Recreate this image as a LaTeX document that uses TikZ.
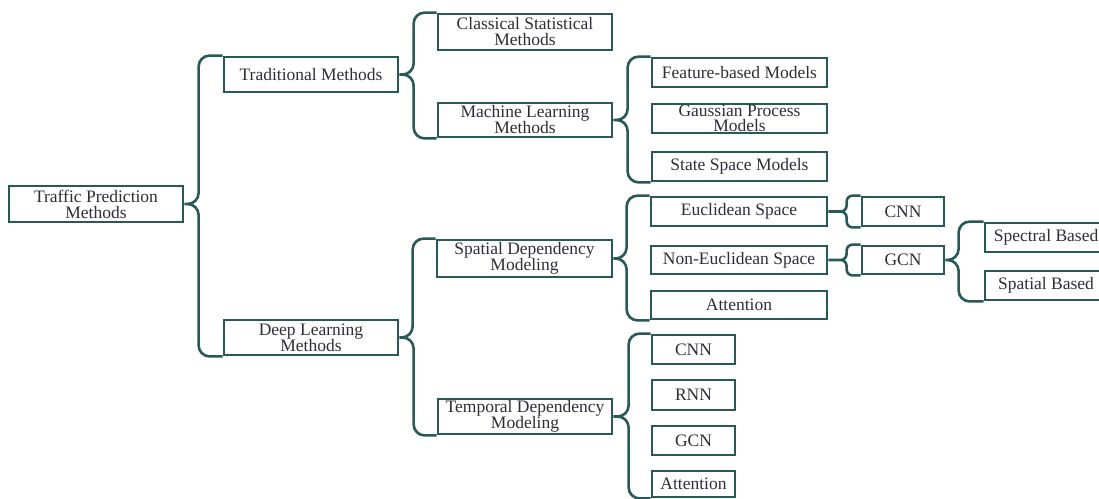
\documentclass[tikz,border=0pt]{standalone}
\usepackage{fontspec}
\setmainfont{Liberation Serif}
\usepackage{tikz}
\definecolor{bracegreen}{RGB}{40,88,88}
\definecolor{labelgray}{RGB}{45,45,55}

\begin{document}
\begin{tikzpicture}[x=1pt, y=-1pt,
  box/.style={draw=bracegreen, line width=2.8pt, text=labelgray, align=center, inner sep=0.5pt,
    minimum width=174pt, minimum height=29pt, font=\fontsize{17.5}{16}\selectfont},
  bracket/.style={draw=bracegreen, line width=2.6pt, rounded corners=11pt},
  shortbracket/.style={bracket, rounded corners=6pt}]
\useasboundingbox (0,0) rectangle (1099,498);

% Create nodes for the root and the two families of methods
\node[box, minimum height=36pt] (traffic) at (96,204) {Traffic Prediction\\Methods};
\node[box, minimum height=35pt] (trad) at (311,74.5) {Traditional Methods};
\node[box, minimum height=35pt] (deep) at (311,337.5) {Deep Learning\\Methods};

% Traditional branch
\node[box, minimum height=36pt] (classical) at (525,32) {Classical Statistical\\Methods};
\node[box, minimum height=34pt] (mlm) at (525,120) {Machine Learning\\Methods};
\node[box, minimum width=175pt] (feature) at (739.5,72.5) {Feature-based Models};
\node[box, minimum width=175pt, inner sep=0pt, font=\fontsize{17.5}{15.5}\selectfont] (gaussian) at (739.5,118.5) {Gaussian Process\\Models};
\node[box, minimum width=175pt] (statespace) at (739.5,166.5) {State Space Models};

% Deep learning branch
\node[box, minimum width=175pt, minimum height=37pt] (spatial) at (524.5,258.5) {Spatial Dependency\\Modeling};
\node[box, minimum height=35pt] (temporal) at (525,416.5) {Temporal Dependency\\Modeling};
\node[box, minimum width=176pt] (euclid) at (739,211.5) {Euclidean Space};
\node[box, minimum width=176pt, minimum height=28pt] (noneuclid) at (739,260) {Non-Euclidean Space};
\node[box, minimum width=176pt, minimum height=28pt] (sattn) at (739,305) {Attention};
\node[box, minimum width=82pt] (scnn) at (903,211.5) {CNN};
\node[box, minimum width=82pt, minimum height=28pt] (sgcn) at (903,260) {GCN};
\node[box, minimum width=122pt] (spectral) at (1046,237.5) {Spectral Based};
\node[box, minimum width=122pt] (spatialb) at (1046,285.5) {Spatial Based};
\node[box, minimum width=83pt] (tcnn) at (693.5,349.5) {CNN};
\node[box, minimum width=83pt, minimum height=30pt] (trnn) at (693.5,395) {RNN};
\node[box, minimum width=83pt] (tgcn) at (693.5,440.5) {GCN};
\node[box, minimum width=83pt, minimum height=26pt] (tattn) at (693.5,484) {Attention};

% Braces from each parent to its children
\draw[bracket] (trad.north west) -| ([xshift=-24pt]trad.west |- traffic.east) -- (traffic.east)
  (deep.south west) -| ([xshift=-24pt]deep.west |- traffic.east) -- (traffic.east);
\draw[bracket] (classical.north west) -| ([xshift=-23pt]classical.west |- trad.east) -- (trad.east)
  (mlm.south west) -| ([xshift=-23pt]mlm.west |- trad.east) -- (trad.east);
\draw[bracket] (spatial.north west) -| ([xshift=-23pt]spatial.west |- deep.east) -- (deep.east)
  (temporal.south west) -| ([xshift=-23pt]temporal.west |- deep.east) -- (deep.east);
\draw[bracket] (feature.north west) -| ([xshift=-23pt]feature.west |- mlm.east) -- (mlm.east)
  (statespace.south west) -| ([xshift=-23pt]statespace.west |- mlm.east) -- (mlm.east);
\draw[bracket] (euclid.north west) -| ([xshift=-23pt]euclid.west |- spatial.east) -- (spatial.east)
  (sattn.south west) -| ([xshift=-23pt]sattn.west |- spatial.east) -- (spatial.east);
\draw[bracket] (tcnn.north west) -| ([xshift=-22pt]tcnn.west |- temporal.east) -- (temporal.east)
  (tattn.south west) -| ([xshift=-22pt]tattn.west |- temporal.east) -- (temporal.east);
\draw[shortbracket] (scnn.north west) -| ([xshift=-14pt]scnn.west |- euclid.east) -- (euclid.east)
  (scnn.south west) -| ([xshift=-14pt]scnn.west |- euclid.east) -- (euclid.east);
\draw[shortbracket] (sgcn.north west) -| ([xshift=-14pt]sgcn.west |- noneuclid.east) -- (noneuclid.east)
  (sgcn.south west) -| ([xshift=-14pt]sgcn.west |- noneuclid.east) -- (noneuclid.east);
\draw[bracket] (spectral.north west) -| ([xshift=-25pt]spectral.west |- sgcn.east) -- (sgcn.east)
  (spatialb.south west) -| ([xshift=-25pt]spatialb.west |- sgcn.east) -- (sgcn.east);
\end{tikzpicture}
\end{document}
